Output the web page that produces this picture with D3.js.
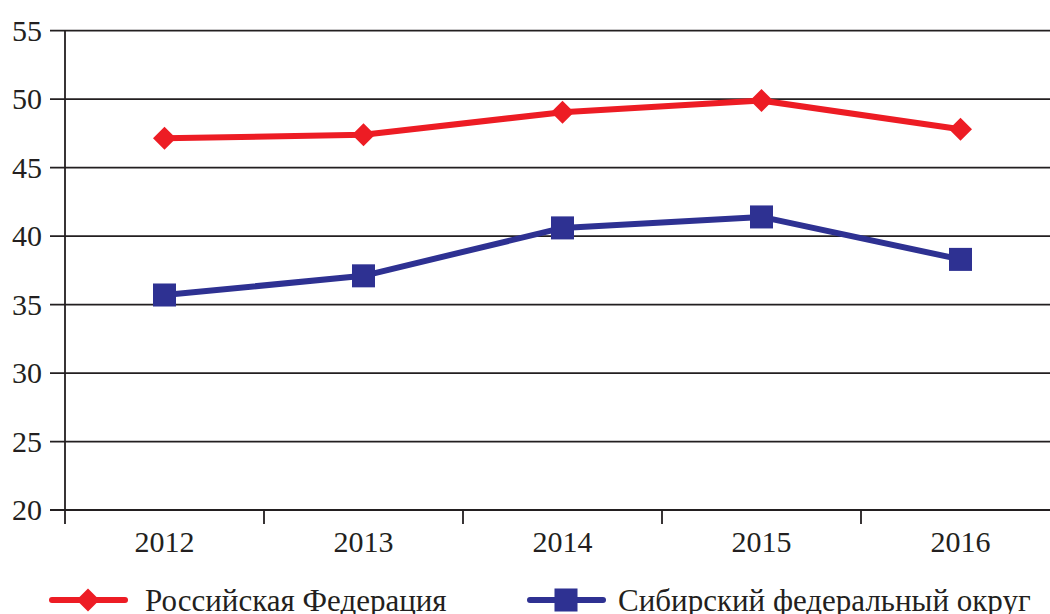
<!DOCTYPE html>
<html>
<head>
<meta charset="utf-8">
<script src="https://cdn.jsdelivr.net/npm/d3@7"></script>
<style>
  body { margin: 0; }
  svg text { font-family: "Times New Roman" !important; }
</style>
</head>
<body>
<script>
const years = ["2012", "2013", "2014", "2015", "2016"];
const russia = [47.15, 47.4, 49.05, 49.9, 47.8];
const siberia = [35.7, 37.1, 40.6, 41.4, 38.3];
const yTicks = [20, 25, 30, 35, 40, 45, 50, 55];
const seriesNames = ["Российская Федерация", "Сибирский федеральный округ"];

const width = 1050, height = 614;
const plotLeft = 65, plotRight = 1060, plotTop = 30.7, plotBottom = 510;

const svg = d3.select("body").append("svg")
    .attr("width", width)
    .attr("height", height);

const x = d3.scaleBand().domain(years).range([plotLeft, plotRight]).padding(0);
const y = d3.scaleLinear().domain([20, 55]).range([plotBottom, plotTop]);

// grid + y labels
const yAxis = d3.axisLeft(y).tickValues(yTicks).tickSize(0).tickPadding(23);
const gy = svg.append("g")
    .attr("transform", "translate(" + plotLeft + ",0)")
    .call(yAxis)
    .attr("font-size", 30);
gy.select(".domain").remove();
gy.selectAll("text").attr("fill", "#231f20");

svg.selectAll("line.grid")
    .data(yTicks)
    .enter()
    .append("line")
    .attr("class", "grid")
    .attr("x1", plotLeft - 15)
    .attr("x2", plotRight)
    .attr("y1", function(d) { return y(d); })
    .attr("y2", function(d) { return y(d); })
    .style("stroke", "#231f20")
    .style("stroke-width", 1.8);

// y axis line
svg.append("line")
    .attr("x1", plotLeft).attr("x2", plotLeft)
    .attr("y1", plotTop).attr("y2", plotBottom + 14)
    .style("stroke", "#231f20")
    .style("stroke-width", 1.8);

// x ticks at band edges
const edges = years.map(function(d) { return x(d); }).concat([plotRight]);
svg.selectAll("line.xtick")
    .data(edges.slice(1))
    .enter()
    .append("line")
    .attr("class", "xtick")
    .attr("x1", function(d) { return d; })
    .attr("x2", function(d) { return d; })
    .attr("y1", plotBottom)
    .attr("y2", plotBottom + 14)
    .style("stroke", "#231f20")
    .style("stroke-width", 1.8);

const xAxis = d3.axisBottom(x).tickSize(0).tickPadding(21);
const gx = svg.append("g")
    .attr("transform", "translate(0," + plotBottom + ")")
    .call(xAxis)
    .attr("font-size", 30);
gx.select(".domain").remove();
gx.selectAll("text").attr("fill", "#231f20");

const line = d3.line()
    .x(function(d, i) { return x(years[i]) + x.bandwidth() / 2; })
    .y(function(d) { return y(d); });

const series = [
    { name: seriesNames[0], values: russia, color: "#ed1c24", shape: "diamond" },
    { name: seriesNames[1], values: siberia, color: "#2e3192", shape: "square" }
];

// diamond is a rotated square, about 23px across
const diamond = d3.symbol().type(d3.symbolSquare).size(265);
const square = d3.symbol().type(d3.symbolSquare).size(530);

series.forEach(function(s) {
    svg.append("path")
        .attr("d", line(s.values))
        .style("fill", "none")
        .style("stroke", s.color)
        .style("stroke-width", 6)
        .style("stroke-linejoin", "round");
    svg.selectAll(null)
        .data(s.values)
        .enter()
        .append("path")
        .attr("transform", function(d, i) {
            const t = "translate(" + (x(years[i]) + x.bandwidth() / 2) + "," + y(d) + ")";
            return s.shape === "diamond" ? t + " rotate(45)" : t;
        })
        .attr("d", s.shape === "diamond" ? diamond : square)
        .style("fill", s.color);
});

// legend
const legendX = [52, 530];
const legendY = 600;
series.forEach(function(s, i) {
    const g = svg.append("g").attr("transform", "translate(" + legendX[i] + "," + legendY + ")");
    g.append("line")
        .attr("x1", 0).attr("x2", 73)
        .style("stroke", s.color)
        .style("stroke-width", 6)
        .style("stroke-linecap", "round");
    g.append("path")
        .attr("transform", s.shape === "diamond" ? "translate(36,0) rotate(45)" : "translate(36,0)")
        .attr("d", s.shape === "diamond" ? diamond : square)
        .style("fill", s.color);
    g.append("text")
        .attr("x", i === 0 ? 93 : 88)
        .attr("y", 11)
        .attr("font-size", 31)
        .attr("fill", "#231f20")
        .text(s.name);
});
</script>
</body>
</html>
